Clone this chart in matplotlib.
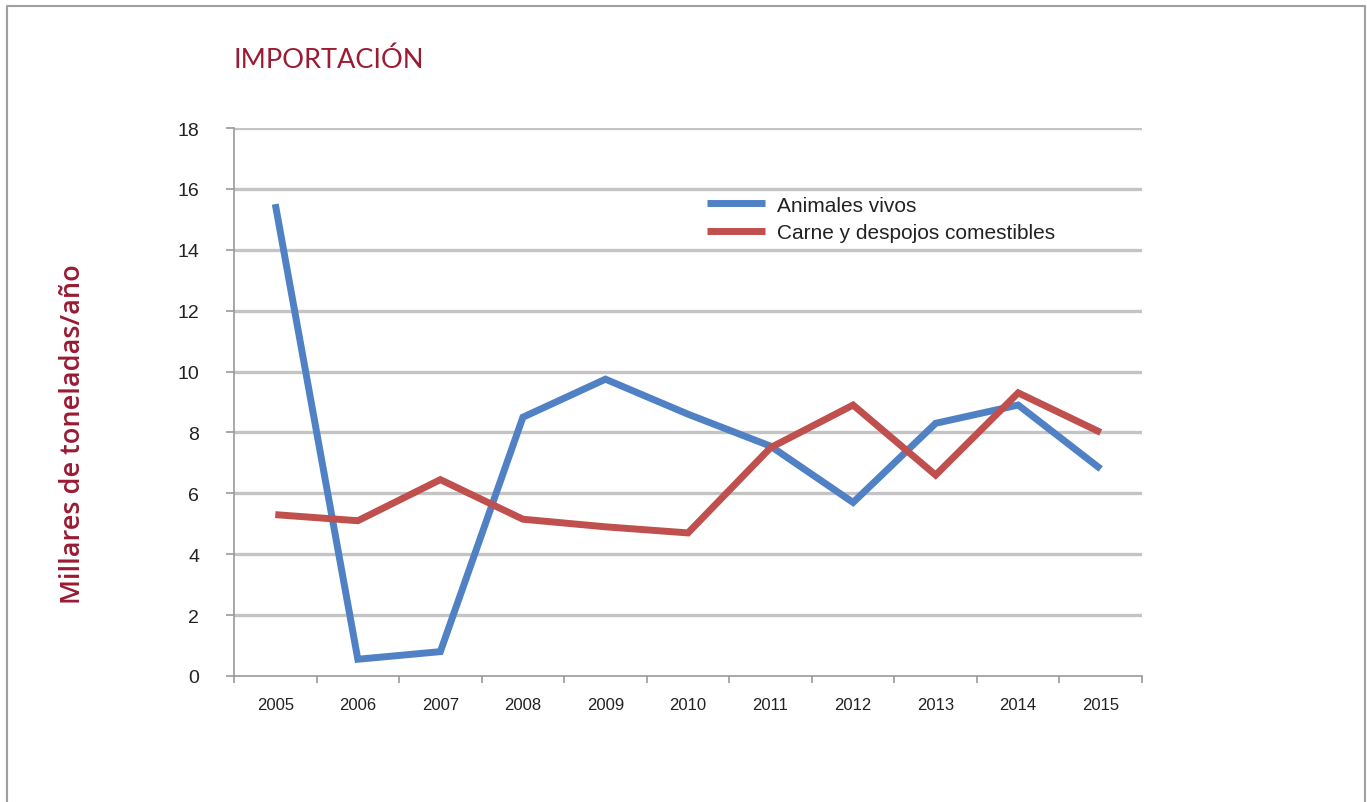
import matplotlib
matplotlib.use("Agg")
import matplotlib.pyplot as plt
from matplotlib.lines import Line2D
import numpy as np

# data (thousand tonnes / year)
years = ["2005", "2006", "2007", "2008", "2009", "2010",
         "2011", "2012", "2013", "2014", "2015"]
animales_vivos = [15.5, 0.55, 0.8, 8.5, 9.75, 8.6, 7.55, 5.7, 8.3, 8.9, 6.8]
carne_despojos = [5.3, 5.1, 6.45, 5.15, 4.9, 4.7, 7.5, 8.9, 6.6, 9.3, 8.0]

maroon = "#9a1b33"
blue = "#4f81c4"
red = "#c0504d"
grid_gray = "#c4c4c4"

fig = plt.figure(figsize=(13.67, 8.03), dpi=100)

# outer frame (open at the bottom)
frame = Line2D([7 / 1367, 7 / 1367, 1365 / 1367, 1365 / 1367],
               [0, 1 - 7 / 803, 1 - 7 / 803, 0],
               transform=fig.transFigure, color="#a0a0a0", lw=1.5)
fig.add_artist(frame)

ax = fig.add_axes([234 / 1367, 1 - 677 / 803, 908 / 1367, 548 / 803])

x = np.arange(len(years))
ax.plot(x, animales_vivos, color=blue, lw=5, solid_joinstyle="miter",
        solid_capstyle="butt", label="Animales vivos", zorder=3)
ax.plot(x, carne_despojos, color=red, lw=5, solid_joinstyle="miter",
        solid_capstyle="butt", label="Carne y despojos comestibles", zorder=3)

ax.set_xlim(-0.5, len(years) - 0.5)
ax.set_ylim(0, 18)
ax.set_yticks(range(0, 19, 2))
for v in range(2, 19, 2):
    ax.axhline(v, color=grid_gray, lw=2.4, zorder=1)

ax.set_xticks(x)
ax.set_xticklabels(years)
ax.set_xticks(np.arange(-0.5, len(years)), minor=True)
ax.tick_params(axis="x", which="major", length=0, pad=15, labelsize=12,
               labelcolor="#222222")
ax.tick_params(axis="x", which="minor", length=5, color="#999999", width=1.2)
ax.tick_params(axis="y", length=6, color="#999999", width=1.2, pad=19,
               labelsize=14, labelcolor="#222222")
for lab in ax.get_xticklabels() + ax.get_yticklabels():
    lab.set_family("Liberation Sans")

for side in ["top", "right"]:
    ax.spines[side].set_visible(False)
ax.spines["left"].set_color("#999999")
ax.spines["bottom"].set_color("#999999")
ax.spines["left"].set_linewidth(1.2)
ax.spines["bottom"].set_linewidth(1.2)

leg = ax.legend(loc="upper left", bbox_to_anchor=(0.505, 0.903), frameon=False,
                prop={"family": "Liberation Sans", "size": 15},
                handlelength=2.8, handletextpad=0.55, labelspacing=0.42,
                borderpad=0.2)
for t in leg.get_texts():
    t.set_color("#222222")

fig.text(233 / 1367, 1 - 68 / 803, "IMPORTACIÓN", color=maroon,
         fontsize=19.5, family="Lato", va="baseline", ha="left")
fig.text(73 / 1367, 1 - 434 / 803, "Millares de toneladas/año", color=maroon,
         fontsize=19.5, family="Open Sans", fontweight="semibold",
         rotation=90, va="center", ha="center")

fig.savefig("out.png", dpi=100, facecolor="white")
